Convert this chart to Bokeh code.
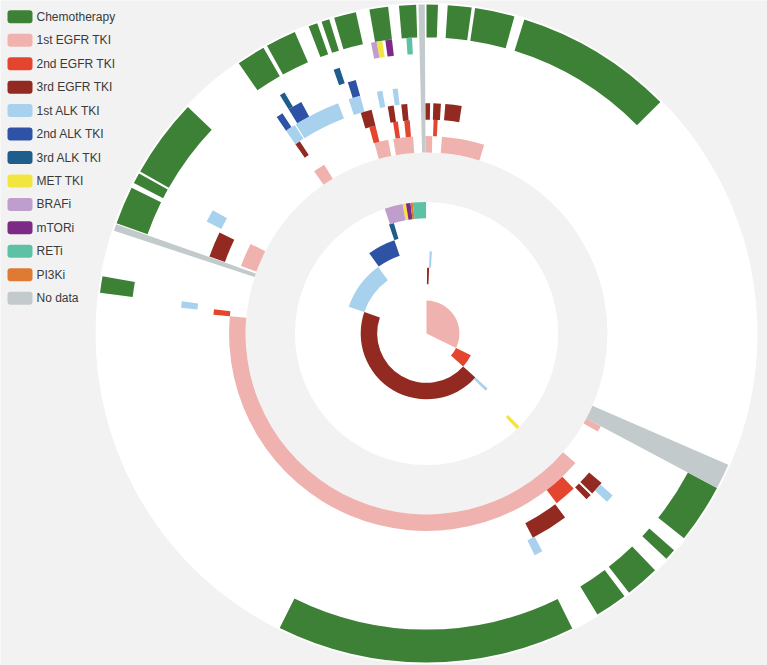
import math
from bokeh.plotting import figure
from bokeh.models import Range1d, ColumnDataSource, Quad
from bokeh.embed import file_html
from bokeh.resources import INLINE
from bokeh.core.properties import value

# ---------------- data ----------------
categories = ["Chemotherapy", "1st EGFR TKI", "2nd EGFR TKI", "3rd EGFR TKI",
              "1st ALK TKI", "2nd ALK TKI", "3rd ALK TKI", "MET TKI", "BRAFi",
              "mTORi", "RETi", "PI3Ki", "No data"]
colors = ["#3d8137", "#efb2ae", "#e3452f", "#922a22", "#a8d1ed", "#2d52a6",
          "#1f5d8c", "#f3e53f", "#bf9dcc", "#7c2a85", "#5cc1a5", "#df7a35", "#c2cacb"]

# segments: (angle start, angle end [deg clockwise from 12 o'clock], ring start, ring end)
chemotherapy = [(17.3, 45.3, 18, 20), (8.5, 15.5, 18, 20), (3.7, 7.9, 18, 20), (0, 2, 18, 20),
                (355.2, 358.2, 18, 20), (350, 353.3, 18, 20), (343.7, 347.6, 18, 20),
                (341.4, 342.8, 18, 20), (339, 340.6, 18, 20), (331, 336.4, 18, 20),
                (325.2, 330.3, 18, 20), (299.5, 313.5, 18, 20), (297.2, 299.1, 18, 20),
                (289.6, 296.3, 18, 20), (277.1, 280, 18, 20), (153.7, 206.5, 18, 20),
                (143, 148.7, 18, 20), (136, 142, 18, 20), (131.2, 133.2, 18, 20),
                (118, 128.5, 18, 20)]
egfr1 = [(0, 116, 0, 2), (131, 275, 11, 12), (118, 119.8, 11, 12), (290, 297, 11, 12),
         (325.3, 328.8, 11, 12), (344.7, 348.8, 11, 12), (350.3, 356.1, 11, 12),
         (359.7, 361.7, 11, 12), (4.5, 17, 11, 12)]
egfr2 = [(116, 132, 2, 3), (136.5, 142.5, 12, 13), (275, 276.5, 12, 13), (344.5, 346.2, 12, 13),
         (351, 352.3, 12, 13), (354, 355.5, 12, 13), (1.9, 3.0, 12, 13)]
egfr3 = [(132, 289, 3, 4), (0.5, 2.3, 3, 4), (130.5, 134, 13, 14), (134.5, 136, 13, 14),
         (143, 152.5, 13, 14), (289.5, 296, 13, 14), (325.3, 326.6, 13, 14),
         (343.4, 346.2, 13, 14), (350.3, 351.8, 13, 14), (353.7, 355.2, 13, 14),
         (359.7, 360.9, 13, 14), (1.7, 3.6, 13, 14), (4.7, 8.8, 13, 14)]
alk1 = [(289, 324, 4, 5), (132, 134, 4, 5), (2.2, 3.8, 4, 5), (131, 133, 14, 15),
        (152, 154, 14, 15), (276, 277.5, 14, 15), (297, 300, 14, 15), (325.3, 327.7, 14, 15),
        (328, 339, 14, 15), (341.6, 344.4, 14, 15), (348.4, 349.7, 14, 15), (352.1, 353.3, 14, 15)]
alk2 = [(324.5, 341, 5, 6), (325.3, 326.8, 15, 16), (328.4, 331.6, 15, 16), (342.6, 344.4, 15, 16)]
alk3 = [(341, 343.5, 6, 7), (328.4, 329.5, 16, 17), (340.6, 341.9, 16, 17)]
met = [(349.5, 351, 7, 8), (135, 136.6, 7, 8), (350.3, 351.4, 17, 18)]
brafi = [(341.5, 349.5, 7, 8), (349.2, 350.3, 17, 18)]
mtori = [(351, 353, 7, 8), (352, 353.3, 17, 18)]
reti = [(354, 359.8, 7, 8), (356.1, 357.2, 17, 18)]
pi3ki = [(353, 354, 7, 8)]
no_data = [(358.6, 359.7, 11, 20), (113.5, 118, 11, 20), (288.2, 289.4, 11, 20)]

series = [chemotherapy, egfr1, egfr2, egfr3, alk1, alk2, alk3, met, brafi, mtori, reti, pi3ki, no_data]

# ---------------- figure ----------------
U = 16.45  # pixels per ring level
W, H = 767, 665
CX, CY = 426, 333  # centre inside the canvas, px
p = figure(width=W, height=H, output_backend="svg", toolbar_location=None,
           x_range=Range1d(-CX / U, (W - CX) / U), y_range=Range1d(-(H - CY) / U, CY / U),
           x_axis_type=None, y_axis_type=None, min_border=0)
p.min_border_left = p.min_border_right = p.min_border_top = p.min_border_bottom = 0
p.outline_line_color = None
p.grid.visible = False
p.background_fill_color = "#f2f2f2"
p.border_fill_color = "#f2f2f2"

# background bands
p.annular_wedge(x=0, y=0, inner_radius=0, outer_radius=20.12, start_angle=0, end_angle=2 * math.pi,
                fill_color="white", line_color=None)
p.annular_wedge(x=0, y=0, inner_radius=8, outer_radius=11, start_angle=0, end_angle=2 * math.pi,
                fill_color="#f2f2f2", line_color=None)

for cat, col, segs in zip(categories, colors, series):
    src = ColumnDataSource(dict(
        start=[math.radians(90 - s[1]) for s in segs],
        end=[math.radians(90 - s[0]) for s in segs],
        r0=[s[2] for s in segs],
        r1=[s[3] for s in segs],
    ))
    p.annular_wedge(x=0, y=0, inner_radius="r0", outer_radius="r1", start_angle="start",
                    end_angle="end", source=src, fill_color=col, line_color=None)

# legend (top-left)
def px_x(px):
    return (px - CX) / U

def px_y(py):
    return (CY - py) / U

row_y = [16.3 + 23.45 * i for i in range(len(categories))]
lsrc = ColumnDataSource(dict(
    left=[px_x(7)] * len(categories), right=[px_x(32)] * len(categories),
    top=[px_y(y - 6.5) for y in row_y], bottom=[px_y(y + 6.5) for y in row_y],
    tx=[px_x(36)] * len(categories), ty=[px_y(y) for y in row_y],
    color=colors, label=categories))
qkw = {}
if "border_radius" in Quad.properties():
    qkw["border_radius"] = 3
p.quad(left="left", right="right", top="top", bottom="bottom", fill_color="color",
       line_color=None, source=lsrc, **qkw)
p.text(x="tx", y="ty", text="label", source=lsrc, text_baseline="middle", text_align="left",
       text_font=value("Liberation Sans"), text_font_size="12px", text_color="#3a3a3a")

open("out.html", "w").write(file_html(p, INLINE))
